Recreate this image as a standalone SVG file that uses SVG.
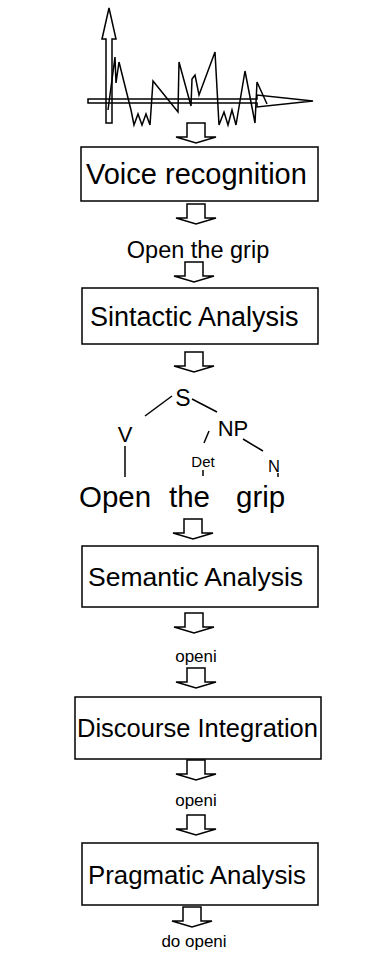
<svg xmlns="http://www.w3.org/2000/svg" width="374" height="956" viewBox="0 0 374 956">
<style>
.box{fill:#fff;stroke:#000;stroke-width:1.5}
.arr{fill:#fff;stroke:#000;stroke-width:1.5;stroke-linejoin:miter}
.ln{fill:none;stroke:#000;stroke-width:1.5}
text{font-family:"Liberation Sans",Arial,sans-serif;fill:#000}
</style>
<defs>
<path id="ba" class="arr" d="M-9,0 L9,0 L9,14 L20,14 L0,20 L-20,14 L-9,14 Z"/>
</defs>
<g id="waveform">
<path class="ln" d="M88,99 L257,99 L257,95 L313,101 L257,107 L257,103 L88,103 Z" fill="#fff"/>
<path class="ln" d="M106,123 L106,39 L102,39 L109,8 L116,39 L112,39 L112,123 Z" fill="#fff"/>
<polyline class="ln" stroke-width="2" points="108,110 115,57 116,83 119,62 131,110 134,125 138,114 142,125 146,114 150,125 153,81 178,112 179,62 191,106 192,79 195,75 199,95 215,52 219,125 224,112 228,125 232,110 236,125 245,71 255,123 257,82 267,104"/>
</g>
<g id="connectors">
<use href="#ba" x="196" y="123"/>
<use href="#ba" x="196" y="204"/>
<use href="#ba" x="194" y="352"/>
<use href="#ba" x="193" y="519"/>
<use href="#ba" x="194" y="613"/>
<use href="#ba" x="196" y="760"/>
<use href="#ba" x="196" y="815"/>
<use href="#ba" x="192" y="907"/>
</g>
<g id="n1"><rect class="box" x="81" y="147" width="237" height="54"/><text x="86" y="184" font-size="29">Voice recognition</text></g>
<g id="t1"><text x="198" y="258" font-size="23.5" text-anchor="middle">Open the grip</text></g>
<use href="#ba" x="194" y="262"/>
<g id="n2"><rect class="box" x="82" y="288" width="236" height="56"/><text x="90" y="326" font-size="27">Sintactic Analysis</text></g>
<g id="tree">
<text x="183" y="406" font-size="23" text-anchor="middle">S</text>
<text x="125" y="442" font-size="22" text-anchor="middle">V</text>
<text x="233" y="436" font-size="22" text-anchor="middle">NP</text>
<text x="203" y="467" font-size="15" text-anchor="middle">Det</text>
<text x="274" y="472" font-size="16.5" text-anchor="middle">N</text>
<line class="ln" x1="172" y1="396" x2="145" y2="416"/>
<line class="ln" x1="192" y1="399" x2="217" y2="412"/>
<line class="ln" x1="209" y1="431" x2="204" y2="443"/>
<line class="ln" x1="243" y1="439" x2="263" y2="451"/>
<line class="ln" x1="125" y1="446" x2="125" y2="477"/>
<line class="ln" x1="203" y1="470" x2="203" y2="476"/>
<line class="ln" x1="278" y1="473" x2="278" y2="477"/>
<text x="79" y="507" font-size="29.5">Open</text>
<text x="169" y="507" font-size="29.5">the</text>
<text x="236" y="507" font-size="29.5">grip</text>
</g>
<g id="n3"><rect class="box" x="82" y="546" width="236" height="61"/><text x="88" y="586" font-size="26.5">Semantic Analysis</text></g>
<g id="t2"><text x="196" y="662" font-size="17" text-anchor="middle">openi</text></g>
<use href="#ba" x="196" y="668"/>
<g id="n4"><rect class="box" x="75" y="697" width="246" height="62"/><text x="77" y="737" font-size="25.5">Discourse Integration</text></g>
<g id="t3"><text x="196" y="806" font-size="17" text-anchor="middle">openi</text></g>
<g id="n5"><rect class="box" x="82" y="843" width="236" height="62"/><text x="88" y="884" font-size="25.8">Pragmatic Analysis</text></g>
<g id="t4"><text x="194" y="947" font-size="17" text-anchor="middle">do openi</text></g>
</svg>
